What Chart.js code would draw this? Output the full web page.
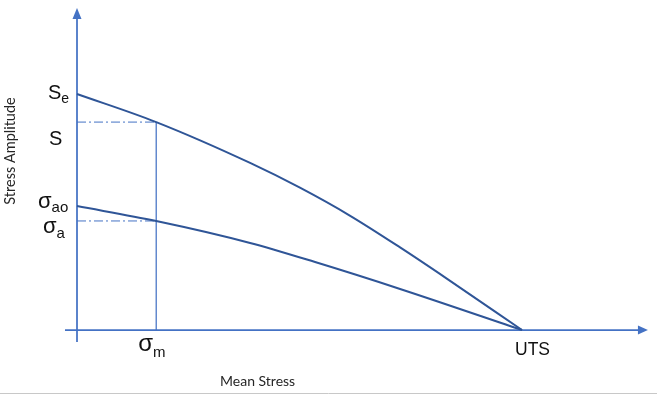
<!DOCTYPE html>
<html>
<head>
<meta charset="utf-8">
<script src="https://cdn.jsdelivr.net/npm/chart.js@4.4.0/dist/chart.umd.min.js"></script>
<style>
  html, body { margin: 0; padding: 0; background: #fff; }
  canvas { display: block; }
</style>
</head>
<body>
<canvas id="stressChart" width="657" height="395"></canvas>
<script>
//-----------------------------------------------------------------------------
// 資料：平均應力 (UTS = 100)、應力振幅 (Se = 100)
const upperX = [0, 17.8, 38.9, 50.1, 61.3, 72.6, 83.1, 100];
const upperY = [100, 88.1, 70.8, 60.3, 48.5, 35.0, 21.8, 0];
const lowerX = [0, 17.8, 38.9, 53.5, 72.6, 100];
const lowerY = [52.5, 46.2, 36.9, 28.8, 17.4, 0];

const sigmaM = 17.8;      // σm 的位置
const sLevel = 88.1;      // S
const sigmaALevel = 46.2; // σa

// 軸上的標籤
const yTickLabels = [['S', 'e'], ['S', ''], ['σ', 'ao'], ['σ', 'a']];
const xTickLabels = [['σ', 'm'], ['UTS', '']];
const axisTitles = ['Mean Stress', 'Stress Amplitude'];

const toPoints = (xs, ys) => xs.map((x, i) => ({ x: x, y: ys[i] }));

//-----------------------------------------------------------------------------
// 畫座標軸、箭頭和文字
function drawLabel(ctx, parts, x, y, size, subSize, subDrop) {
  ctx.font = size + 'px "Liberation Sans"';
  ctx.fillText(parts[0], x, y);
  const w = ctx.measureText(parts[0]).width;
  if (parts[1]) {
    ctx.font = subSize + 'px "Liberation Sans"';
    ctx.fillText(parts[1], x + w, y + subDrop);
  }
}

const axisPlugin = {
  id: 'axisPlugin',
  beforeDatasetsDraw(chart) {
    const ctx = chart.ctx;
    const xs = chart.scales.x, ys = chart.scales.y;
    const ox = xs.getPixelForValue(0), oy = ys.getPixelForValue(0);
    const xEnd = xs.getPixelForValue(128.3), yEnd = ys.getPixelForValue(136.4);
    ctx.save();
    ctx.strokeStyle = '#4472C4';
    ctx.fillStyle = '#4472C4';
    ctx.lineWidth = 1.75;
    // x 軸
    ctx.beginPath();
    ctx.moveTo(xs.getPixelForValue(-2.7), oy);
    ctx.lineTo(xEnd - 8, oy);
    ctx.stroke();
    ctx.beginPath();
    ctx.moveTo(xEnd, oy);
    ctx.lineTo(xEnd - 10, oy - 4.5);
    ctx.lineTo(xEnd - 10, oy + 4.5);
    ctx.closePath();
    ctx.fill();
    // y 軸
    ctx.beginPath();
    ctx.moveTo(ox, ys.getPixelForValue(-5.1));
    ctx.lineTo(ox, yEnd + 8);
    ctx.stroke();
    ctx.beginPath();
    ctx.moveTo(ox, yEnd);
    ctx.lineTo(ox - 4.5, yEnd + 11);
    ctx.lineTo(ox + 4.5, yEnd + 11);
    ctx.closePath();
    ctx.fill();
    ctx.restore();
  },
  afterDatasetsDraw(chart) {
    const ctx = chart.ctx;
    const xs = chart.scales.x, ys = chart.scales.y;
    const ox = xs.getPixelForValue(0), oy = ys.getPixelForValue(0);
    ctx.save();
    ctx.fillStyle = '#111';
    ctx.textAlign = 'left';
    ctx.textBaseline = 'alphabetic';
    drawLabel(ctx, yTickLabels[0], ox - 29, ys.getPixelForValue(100) + 5, 20, 14, 4);
    drawLabel(ctx, yTickLabels[1], ox - 28, ys.getPixelForValue(sLevel) + 23, 20, 14, 4);
    drawLabel(ctx, yTickLabels[2], ox - 39, ys.getPixelForValue(lowerY[0]) + 2, 22, 15, 4);
    drawLabel(ctx, yTickLabels[3], ox - 34, ys.getPixelForValue(sigmaALevel) + 12, 22, 15, 5);
    drawLabel(ctx, xTickLabels[0], xs.getPixelForValue(sigmaM) - 18, oy + 21, 24, 15, 6);
    drawLabel(ctx, xTickLabels[1], xs.getPixelForValue(100) - 7, oy + 25, 17.5, 12, 0);

    // 軸標題
    ctx.fillStyle = '#262626';
    ctx.font = '14px Lato';
    ctx.fillText(axisTitles[0], 220, 386);
    ctx.translate(15, 151);
    ctx.rotate(-Math.PI / 2);
    ctx.textAlign = 'center';
    ctx.font = '14.5px Lato';
    ctx.fillText(axisTitles[1], 0, 0);
    ctx.restore();

    // 底部的灰色邊線
    ctx.save();
    ctx.strokeStyle = '#c8c8c8';
    ctx.lineWidth = 1;
    ctx.beginPath();
    ctx.moveTo(0, 393.5);
    ctx.lineTo(657, 393.5);
    ctx.stroke();
    ctx.restore();
  }
};

//-----------------------------------------------------------------------------
// 建立圖表
const ctxStress = document.getElementById('stressChart').getContext('2d');
const dataStress = {
  datasets: [
    {
      label: 'upper',
      data: toPoints(upperX, upperY),
      borderColor: '#2F5597',
      borderWidth: 2,
      cubicInterpolationMode: 'monotone'
    },
    {
      label: 'lower',
      data: toPoints(lowerX, lowerY),
      borderColor: '#2F5597',
      borderWidth: 2,
      cubicInterpolationMode: 'monotone'
    },
    {
      label: 'S line',
      data: [{ x: 0, y: sLevel }, { x: sigmaM, y: sLevel }],
      borderColor: '#4472C4',
      borderWidth: 1,
      borderDash: [9, 3, 2, 3]
    },
    {
      label: 'sigma a line',
      data: [{ x: 0, y: sigmaALevel }, { x: sigmaM, y: sigmaALevel }],
      borderColor: '#4472C4',
      borderWidth: 1,
      borderDash: [9, 3, 2, 3]
    },
    {
      label: 'sigma m line',
      data: [{ x: sigmaM, y: 0 }, { x: sigmaM, y: sLevel }],
      borderColor: '#4472C4',
      borderWidth: 1.25
    }
  ]
};

const configStress = {
  type: 'scatter',
  data: dataStress,
  options: {
    responsive: false,
    animation: false,
    showLine: true,
    layout: { padding: { left: 77, right: 135, top: 94, bottom: 65 } },
    elements: { point: { radius: 0, hoverRadius: 0 } },
    datasets: { scatter: { clip: false } },
    scales: {
      x: { type: 'linear', min: 0, max: 100, display: false },
      y: { type: 'linear', min: 0, max: 100, display: false }
    },
    plugins: {
      legend: { display: false },
      tooltip: { enabled: false }
    }
  },
  plugins: [axisPlugin]
};
const stressChart = new Chart(ctxStress, configStress);
</script>
</body>
</html>
